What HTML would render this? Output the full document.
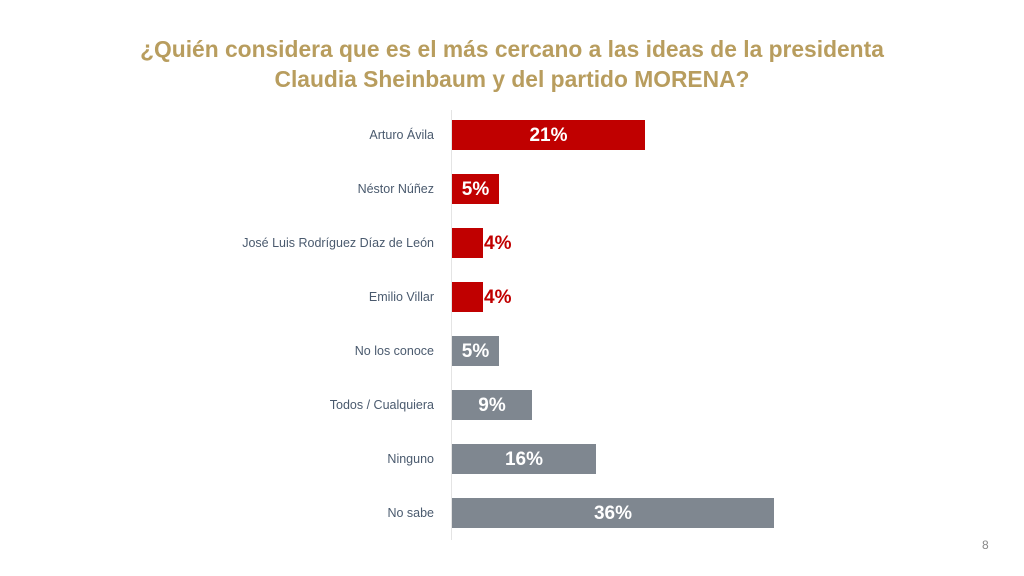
<!DOCTYPE html>
<html><head><meta charset="utf-8"><style>
body{margin:0;width:1024px;height:576px;background:#fff;overflow:hidden;font-family:"Liberation Sans",sans-serif;position:relative}
.t{position:absolute;left:0;width:1024px;text-align:center;color:#b89d5e;font-weight:bold;font-size:22.8px}
.l{position:absolute;right:590px;font-size:12.5px;color:#4a5a6e;text-align:right;white-space:nowrap}
.b{position:absolute;left:452px;height:30px}
.v{position:absolute;font-weight:bold;font-size:19px;color:#fff;text-align:center}
</style></head><body>
<div class="t" style="top:36px">¿Quién considera que es el más cercano a las ideas de la presidenta</div>
<div class="t" style="top:66px">Claudia Sheinbaum y del partido MORENA?</div>
<div style="position:absolute;left:451px;top:110px;width:1px;height:430px;background:#e4e4e4"></div>

<div class="l" style="top:128px">Arturo Ávila</div>
<div class="b" style="top:120px;width:193px;background:#c00000"></div>
<div class="v" style="left:452px;width:193px;top:125px">21%</div>

<div class="l" style="top:182px">Néstor Núñez</div>
<div class="b" style="top:174px;width:47px;background:#c00000"></div>
<div class="v" style="left:452px;width:47px;top:179px">5%</div>

<div class="l" style="top:236px">José Luis Rodríguez Díaz de León</div>
<div class="b" style="top:228px;width:31px;background:#c00000"></div>
<div class="v" style="left:484px;top:233px;color:#c00000">4%</div>

<div class="l" style="top:290px">Emilio Villar</div>
<div class="b" style="top:282px;width:31px;background:#c00000"></div>
<div class="v" style="left:484px;top:287px;color:#c00000">4%</div>

<div class="l" style="top:344px">No los conoce</div>
<div class="b" style="top:336px;width:47px;background:#7f8790"></div>
<div class="v" style="left:452px;width:47px;top:341px">5%</div>

<div class="l" style="top:398px">Todos / Cualquiera</div>
<div class="b" style="top:390px;width:80px;background:#7f8790"></div>
<div class="v" style="left:452px;width:80px;top:395px">9%</div>

<div class="l" style="top:452px">Ninguno</div>
<div class="b" style="top:444px;width:144px;background:#7f8790"></div>
<div class="v" style="left:452px;width:144px;top:449px">16%</div>

<div class="l" style="top:506px">No sabe</div>
<div class="b" style="top:498px;width:322px;background:#7f8790"></div>
<div class="v" style="left:452px;width:322px;top:503px">36%</div>

<div style="position:absolute;left:982px;top:538px;font-size:12px;color:#888">8</div>
</body></html>
